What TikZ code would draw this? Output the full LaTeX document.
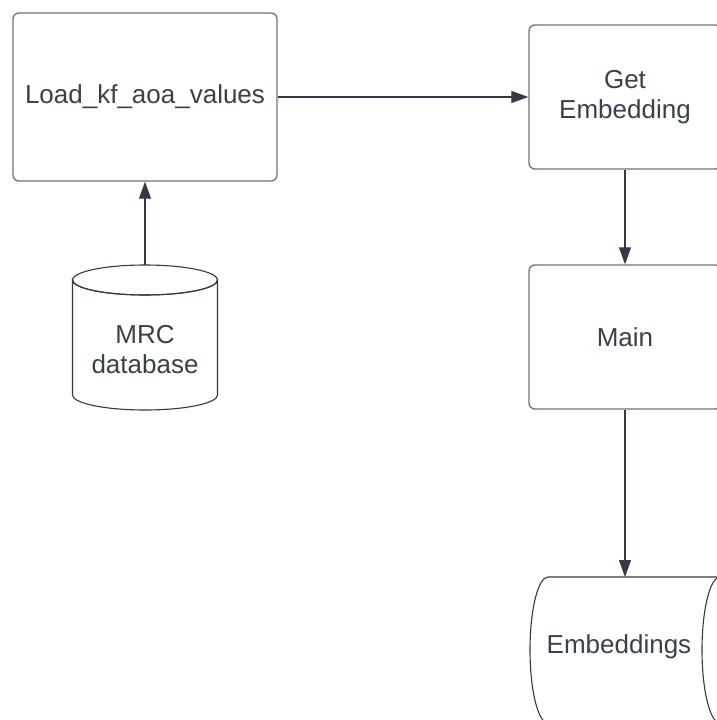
\documentclass[tikz,border=0pt]{standalone}
\usepackage{fontspec}
\setmainfont{Liberation Sans}
\usetikzlibrary{arrows.meta}
\definecolor{edgegrey}{HTML}{6E737A}
\definecolor{inkdark}{HTML}{333A44}
\definecolor{textdark}{HTML}{3A414A}
\tikzset{
  procbox/.style={draw=edgegrey, line width=1.3pt, rounded corners=6pt, fill=white,
    text=textdark, font=\fontsize{26}{30}\selectfont, align=center, inner sep=0pt},
  dbshape/.style={draw=inkdark, line width=1.1pt, fill=white},
  dblabel/.style={text=textdark, font=\fontsize{26}{30}\selectfont, align=center, inner sep=0pt},
  flow/.style={draw=inkdark, line width=1.1pt, -{Triangle[length=17pt,width=12pt]}},
}
\begin{document}
\begin{tikzpicture}[x=1pt,y=-1pt]
  \fill[white] (0,0) rectangle (716,720);
  \useasboundingbox (0,0) rectangle (716,720);

  % process boxes
  \node[procbox, minimum width=264pt, minimum height=168pt] (load) at (145,97) {Load\_kf\_aoa\_values};
  \node[procbox, minimum width=192pt, minimum height=144pt] (getemb) at (625,97) {Get\\Embedding};
  \node[procbox, minimum width=192pt, minimum height=144pt] (main) at (625,337) {Main};

  % MRC database: upright cylinder
  \node[inner sep=0pt, minimum width=145pt, minimum height=145pt] (mrc) at (145,337.5) {};
  \draw[dbshape] (72.5,280) -- (72.5,395) arc[start angle=180, end angle=0, x radius=72.5, y radius=15]
    -- (217.5,280) arc[start angle=0, end angle=180, x radius=72.5, y radius=15] -- cycle;
  \draw[dbshape, fill=none] (145,280) ellipse[x radius=72.5, y radius=15];
  \node[dblabel] at (145,350) {MRC\\database};

  % Embeddings: cylinder lying on its side
  \node[inner sep=0pt, minimum width=190pt, minimum height=146pt] (emb) at (625,650) {};
  \coordinate (embtop) at (625,577);
  \draw[dbshape] (720,577) -- (548,577) arc[start angle=270, end angle=90, x radius=18, y radius=73]
    -- (720,723);
  \draw[dbshape, fill=none] (720,650) ellipse[x radius=18, y radius=73];
  \node[dblabel] at (619,647) {Embeddings};

  % connectors
  \draw[flow] (load.east) -- (getemb.west);
  \draw[flow] (mrc.north) -- (load.south);
  \draw[flow] (getemb.south) -- (main.north);
  \draw[flow] (main.south) -- (embtop);
\end{tikzpicture}
\end{document}
